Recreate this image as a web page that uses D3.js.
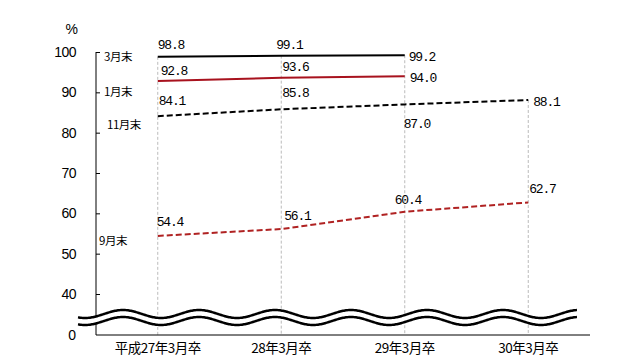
<!DOCTYPE html>
<html><head><meta charset="utf-8">
<script src="https://cdn.jsdelivr.net/npm/d3@7/dist/d3.min.js"></script>
<style>body{margin:0;background:#fff}svg{display:block}</style>
</head><body><svg id="c" width="643" height="360"></svg>
<script>
const categories = ["平成27年3月卒","28年3月卒","29年3月卒","30年3月卒"];
const seriesNames = ["3月末","1月末","11月末","9月末"];
const march = [98.8, 99.1, 99.2];
const january = [92.8, 93.6, 94.0];
const november = [84.1, 85.8, 87.0, 88.1];
const september = [54.4, 56.1, 60.4, 62.7];
const yTicks = [40, 50, 60, 70, 80, 90, 100];

const svg = d3.select("#c");
const x = d3.scaleBand().domain(categories).range([96, 590]);
const cx = c => x(c) + x.bandwidth()/2;
const y = d3.scaleLinear().domain([40, 100]).range([294, 52]);
const yBase = 335;

const series = [
  {name: seriesNames[0], vals: march, color: "#000", dash: null,
   lab: {x: 104, y: 57},
   off: [[0,-12,"start"],[-5,-11,"start"],[4,1,"start"]]},
  {name: seriesNames[1], vals: january, color: "#a8121e", dash: null,
   lab: {x: 104, y: 92},
   off: [[3,-11,"start"],[1,-11,"start"],[5,1,"start"]]},
  {name: seriesNames[2], vals: november, color: "#000", dash: "6,3",
   lab: {x: 107, y: 125},
   off: [[1,-16,"start"],[1,-17,"start"],[-1,19,"start"],[5,1,"start"]]},
  {name: seriesNames[3], vals: september, color: "#b02222", dash: "6,3",
   lab: {x: 99, y: 241},
   off: [[-1,-14,"start"],[3,-14,"start"],[-10,-12,"start"],[1,-14,"start"]]}
];

// drop lines
categories.forEach((c, i) => {
  const top = d3.max(series.filter(s => s.vals[i] !== undefined), s => s.vals[i]);
  svg.append("line").attr("x1", cx(c)).attr("x2", cx(c))
    .attr("y1", y(top)).attr("y2", yBase)
    .attr("stroke", "#bbb").attr("stroke-width", 1).attr("stroke-dasharray", "3,2");
});

// y axis
const yAxis = d3.axisRight(y).tickValues(yTicks).tickSize(4).tickFormat("");
const ga = svg.append("g").attr("transform", "translate(96,0)").call(yAxis);
ga.select(".domain").remove();
ga.selectAll("line").attr("stroke", "#000");
svg.append("line").attr("x1", 96).attr("x2", 96).attr("y1", y(100)).attr("y2", yBase).attr("stroke", "#000");
svg.append("line").attr("x1", 96).attr("x2", 590).attr("y1", yBase).attr("y2", yBase).attr("stroke", "#000");

const tickFont = "'Liberation Sans',Arial,sans-serif";
svg.selectAll(".yl").data(yTicks).enter().append("text")
  .attr("x", 76).attr("y", d => y(d)).attr("dy", "0.35em")
  .attr("text-anchor", "end").attr("font-family", tickFont).attr("font-size", 14)
  .attr("letter-spacing", -0.5).text(d => d);
svg.append("text").attr("x", 76).attr("y", yBase).attr("dy", "0.35em")
  .attr("text-anchor", "end").attr("font-family", tickFont).attr("font-size", 14).text("0");
svg.append("text").attr("x", 78).attr("y", 34)
  .attr("text-anchor", "end").attr("font-family", tickFont).attr("font-size", 14).text("%");

// x labels
svg.selectAll(".xl").data(categories).enter().append("text")
  .attr("x", d => cx(d)).attr("y", 353)
  .attr("text-anchor", "middle").attr("font-family", "'Noto Sans CJK JP',sans-serif")
  .attr("font-size", 13.5).attr("letter-spacing", -0.5).text(d => d);

// lines
const line = d3.line().x(d => cx(d.c)).y(d => y(d.v));
const valFont = "'Liberation Mono','DejaVu Sans Mono',monospace";
series.forEach(s => {
  const pts = s.vals.map((v, i) => ({c: categories[i], v}));
  svg.append("path").datum(pts).attr("d", line).attr("fill", "none")
    .attr("stroke", s.color).attr("stroke-width", 2)
    .attr("stroke-dasharray", s.dash);
  svg.selectAll(null).data(pts).enter().append("text")
    .attr("x", (d, i) => cx(d.c) + s.off[i][0])
    .attr("y", (d, i) => y(d.v) + s.off[i][1])
    .attr("dy", "0.35em").attr("text-anchor", (d, i) => s.off[i][2])
    .attr("font-family", valFont).attr("font-size", 13).attr("letter-spacing", -1.2)
    .text(d => d.v.toFixed(1));
  svg.append("text").attr("x", s.lab.x).attr("y", s.lab.y).attr("dy", "0.35em")
    .attr("font-family", "'Noto Sans CJK JP',sans-serif").attr("font-size", 11.5)
    .attr("letter-spacing", -0.5).text(s.name);
});

// break waves
const waveX = d3.range(78, 577.5, 1);
const wave = (c) => d3.line().x(d => d).y(d => c - 4 * Math.cos(2 * Math.PI * (d - 123) / 76)).curve(d3.curveBasis)(waveX);
const band = d3.area().x(d => d)
  .y0(d => 314 - 4 * Math.cos(2 * Math.PI * (d - 123) / 76))
  .y1(d => 321 - 4 * Math.cos(2 * Math.PI * (d - 123) / 76));
svg.append("path").attr("d", band(waveX)).attr("fill", "#fff");
svg.append("path").attr("d", wave(314)).attr("fill", "none").attr("stroke", "#000").attr("stroke-width", 2.5);
svg.append("path").attr("d", wave(321)).attr("fill", "none").attr("stroke", "#000").attr("stroke-width", 2.5);
</script></body></html>
